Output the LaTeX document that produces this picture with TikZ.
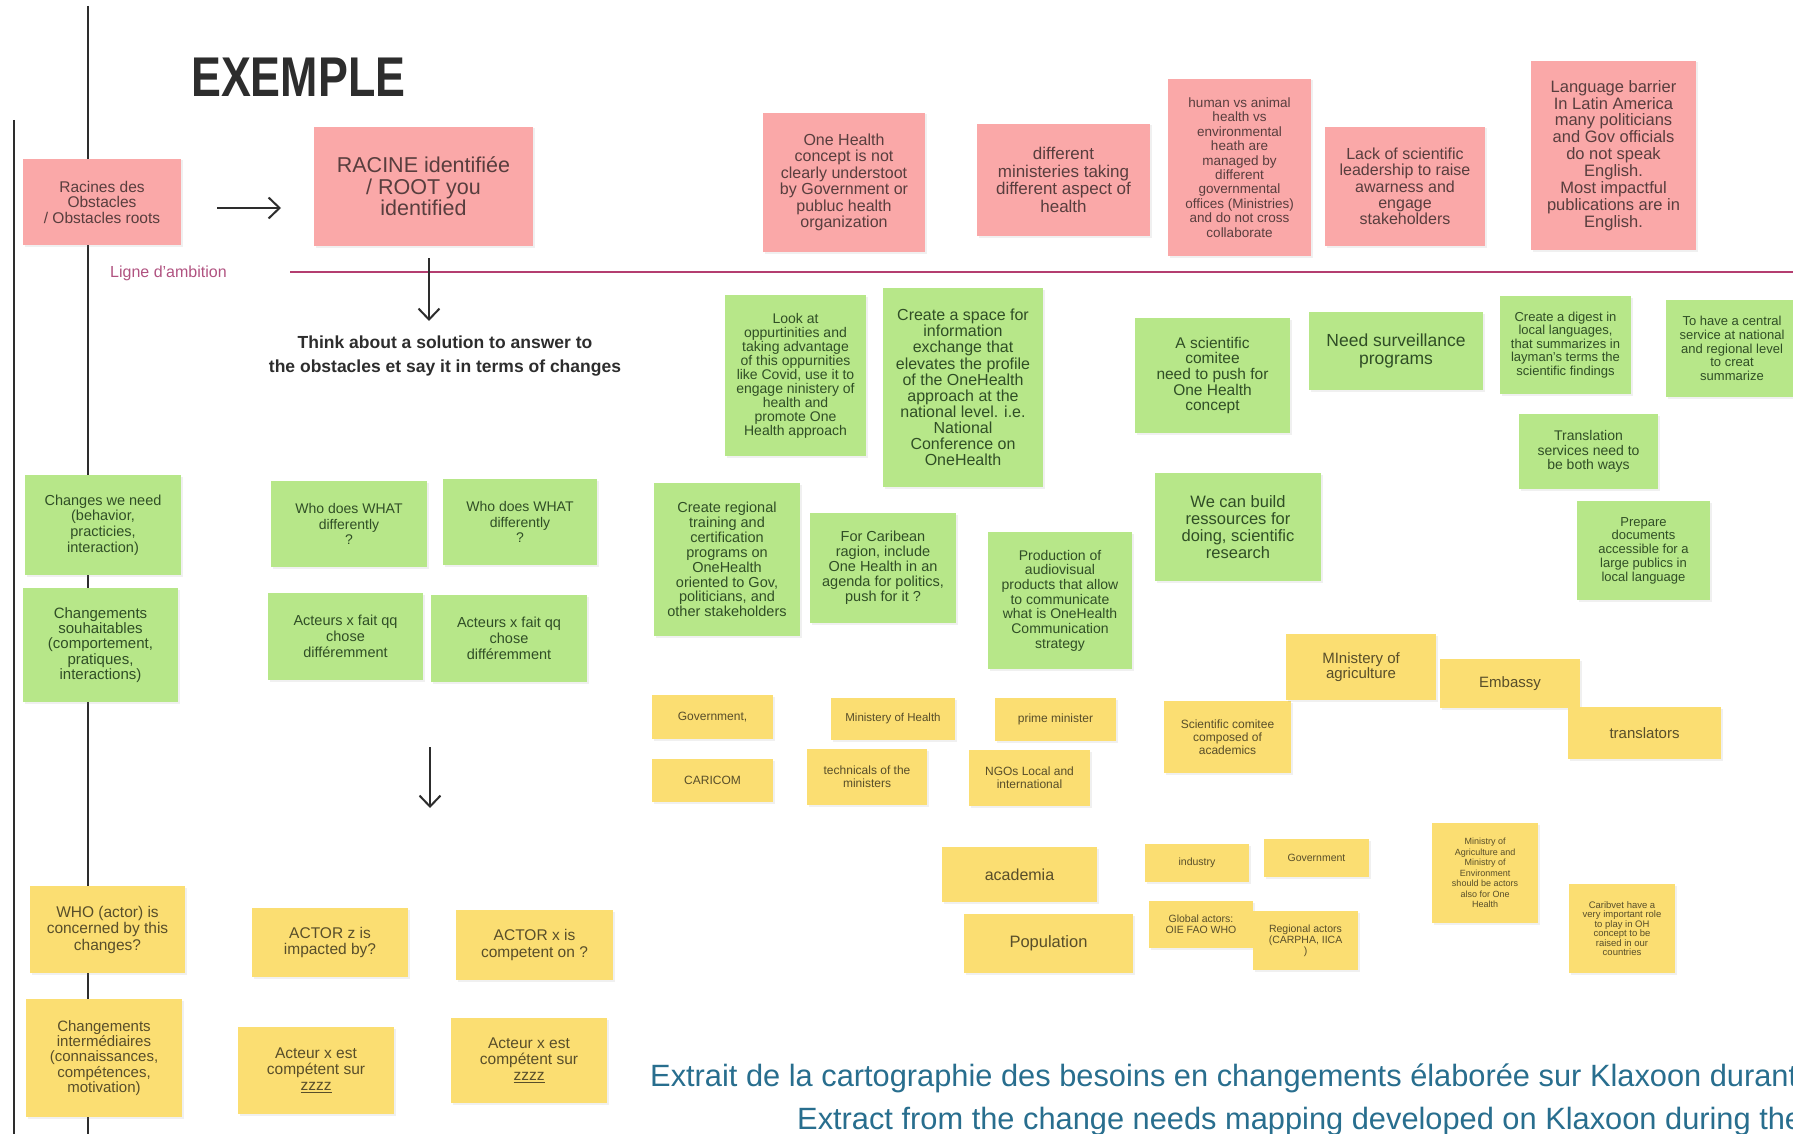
\documentclass[tikz,border=0pt]{standalone}
\usepackage{fontspec}
\setmainfont{Liberation Sans}
\usepackage{graphicx}
\usepackage{tikz}
\usetikzlibrary{positioning,arrows.meta,shadows}
\definecolor{notepink}{RGB}{250,168,168}
\definecolor{notegreen}{RGB}{183,231,137}
\definecolor{noteyellow}{RGB}{251,222,114}
\definecolor{inkpink}{RGB}{88,62,62}
\definecolor{inkgreen}{RGB}{48,78,38}
\definecolor{inkyellow}{RGB}{88,78,42}
\definecolor{ambition}{RGB}{180,62,112}
\definecolor{ambitiontext}{RGB}{176,82,128}
\definecolor{captionblue}{RGB}{40,110,142}
\definecolor{linegray}{RGB}{45,45,45}
\newcommand{\notesize}[2]{\fontsize{#1}{#2}\selectfont}

\begin{document}
\begin{tikzpicture}[x=1pt,y=-1pt,
                note/.style={rectangle,inner sep=0pt,align=center,
                  drop shadow={shadow xshift=1.5pt,shadow yshift=-1.5pt,opacity=0.12}},
                pink note/.style={note,fill=notepink,text=inkpink},
                green note/.style={note,fill=notegreen,text=inkgreen},
                yellow note/.style={note,fill=noteyellow,text=inkyellow},
                guide line/.style={draw=linegray,line width=2pt},
                step arrow/.style={-{Straight Barb[length=11pt,width=21pt]},draw=linegray,line width=2pt}]
\useasboundingbox (0,0) rectangle (1793,1134);
%Lines
    \coordinate (outerTop) at (14,120);
    \coordinate (outerBot) at (14,1134);
    \coordinate (innerTop) at (88,6);
    \coordinate (innerBot) at (88,1134);
    \coordinate (ambL) at (290,272);
    \coordinate (ambR) at (1793,272);
    \draw[guide line] (outerTop) -- (outerBot);
    \draw[guide line] (innerTop) -- (innerBot);
    \draw[draw=ambition,line width=2.5pt] (ambL) -- (ambR);

%Titles
    \node[anchor=base west,font=\notesize{56}{56}\bfseries,text=linegray,inner sep=0pt] (title) at (191,97) {\scalebox{0.8}[1]{EXEMPLE}};
    \node[anchor=base west,font=\notesize{16}{16},text=ambitiontext,inner sep=0pt] (ligne) at (110,277) {Ligne d'ambition};
    \node[align=center,font=\notesize{17.5}{24}\bfseries,text=linegray,inner sep=0pt] (think) at (445,356) {Think about a solution to answer to\\the obstacles et say it in terms of changes};

%Obstacles (pink)
    \node[pink note,minimum width=158,minimum height=86,font=\notesize{15.5}{15.5}] (racines) at (102,202) {Racines des\\Obstacles\\/ Obstacles roots};
    \node[pink note,minimum width=219,minimum height=119,font=\notesize{21.5}{21.5}] (root) at (423.5,186.5) {RACINE identifiée\\/ ROOT you\\identified};
    \node[pink note,minimum width=162,minimum height=139,font=\notesize{16}{16.5}] (concept) at (844,182.5) {One Health\\concept is not\\clearly understoot\\by Government or\\publuc health\\organization};
    \node[pink note,minimum width=173,minimum height=112,font=\notesize{17}{17.7}] (ministeries) at (1063.5,180) {different\\ministeries taking\\different aspect of\\health};
    \node[pink note,minimum width=143,minimum height=177,font=\notesize{13.5}{14.4}] (humanAnimal) at (1239.5,167.5) {human vs animal\\health vs\\environmental\\heath are\\managed by\\different\\governmental\\offices (Ministries)\\and do not cross\\collaborate};
    \node[pink note,minimum width=160,minimum height=119,font=\notesize{16}{16.3}] (leadership) at (1405,186.5) {Lack of scientific\\leadership to raise\\awarness and\\engage\\stakeholders};
    \node[pink note,minimum width=165,minimum height=189,font=\notesize{16.5}{16.9}] (language) at (1613.5,155.5) {Language barrier\\In Latin America\\many politicians\\and Gov officials\\do not speak\\English.\\Most impactful\\publications are in\\English.};

%Changes (green)
    \node[green note,minimum width=156,minimum height=100,font=\notesize{14.5}{15.6}] (changesNeed) at (103,525) {Changes we need\\(behavior,\\practicies,\\interaction)};
    \node[green note,minimum width=155,minimum height=114,font=\notesize{15}{15.4}] (changesFr) at (100.5,645) {Changements\\souhaitables\\(comportement,\\pratiques,\\interactions)};
    \node[green note,minimum width=156,minimum height=86,font=\notesize{14}{15.4}] (whoWhatA) at (349,524) {Who does WHAT\\differently\\?};
    \node[green note,minimum width=154,minimum height=86,font=\notesize{14}{15.4}] (whoWhatB) at (520,522) {Who does WHAT\\differently\\?};
    \node[green note,minimum width=155,minimum height=87,font=\notesize{14.5}{16}] (acteursA) at (345.5,636.5) {Acteurs x fait qq\\chose\\différemment};
    \node[green note,minimum width=156,minimum height=87,font=\notesize{14.5}{16}] (acteursB) at (509,638.5) {Acteurs x fait qq\\chose\\différemment};
    \node[green note,minimum width=141,minimum height=161,font=\notesize{14}{14}] (lookAt) at (795.5,375.5) {Look at\\oppurtinities and\\taking advantage\\of this oppurnities\\like Covid, use it to\\engage ninistery of\\health and\\promote One\\Health approach};
    \node[green note,minimum width=160,minimum height=199,font=\notesize{16}{16.1}] (space) at (963,387.5) {Create a space for\\information\\exchange that\\elevates the profile\\of the OneHealth\\approach at the\\national level. i.e.\\National\\Conference on\\OneHealth};
    \node[green note,minimum width=155,minimum height=115,font=\notesize{15.5}{15.7}] (sciComitee) at (1212.5,375.5) {A scientific\\comitee\\need to push for\\One Health\\concept};
    \node[green note,minimum width=174,minimum height=78,font=\notesize{17.5}{18.3}] (surveillance) at (1396,351) {Need surveillance\\programs};
    \node[green note,minimum width=131,minimum height=98,font=\notesize{13}{13.4}] (digest) at (1565.5,345) {Create a digest in\\local languages,\\that summarizes in\\layman's terms the\\scientific findings};
    \node[green note,minimum width=132,minimum height=97,font=\notesize{13}{13.7}] (central) at (1732,348.5) {To have a central\\service at national\\and regional level\\to creat\\summarize};
    \node[green note,minimum width=139,minimum height=75,font=\notesize{14}{14.3}] (translation) at (1588.5,451.5) {Translation\\services need to\\be both ways};
    \node[green note,minimum width=166,minimum height=108,font=\notesize{16.5}{16.8}] (ressources) at (1238,527) {We can build\\ressources for\\doing, scientific\\research};
    \node[green note,minimum width=133,minimum height=99,font=\notesize{13}{13.7}] (prepare) at (1643.5,550.5) {Prepare\\documents\\accessible for a\\large publics in\\local language};
    \node[green note,minimum width=146,minimum height=153,font=\notesize{14.5}{14.9}] (training) at (727,559.5) {Create regional\\training and\\certification\\programs on\\OneHealth\\oriented to Gov,\\politicians, and\\other stakeholders};
    \node[green note,minimum width=146,minimum height=110,font=\notesize{14.5}{14.9}] (caribean) at (883,568) {For Caribean\\ragion, include\\One Health in an\\agenda for politics,\\push for it ?};
    \node[green note,minimum width=144,minimum height=137,font=\notesize{14}{14.7}] (audiovisual) at (1060,600.5) {Production of\\audiovisual\\products that allow\\to communicate\\what is OneHealth\\Communication\\strategy};

%Actors (yellow)
    \node[yellow note,minimum width=121,minimum height=44,font=\notesize{12}{13}] (government) at (712.5,717) {Government,};
    \node[yellow note,minimum width=121,minimum height=43,font=\notesize{12}{13}] (caricom) at (712.5,780.5) {CARICOM};
    \node[yellow note,minimum width=124,minimum height=42,font=\notesize{11.5}{13}] (health) at (893,719) {Ministery of Health};
    \node[yellow note,minimum width=120,minimum height=56,font=\notesize{12}{13}] (technicals) at (867,777) {technicals of the\\ministers};
    \node[yellow note,minimum width=121,minimum height=43,font=\notesize{12}{13}] (prime) at (1055.5,719.5) {prime minister};
    \node[yellow note,minimum width=121,minimum height=56,font=\notesize{12}{13}] (ngos) at (1029.5,778) {NGOs Local and\\international};
    \node[yellow note,minimum width=127,minimum height=72,font=\notesize{12}{13}] (sciAcademics) at (1227.5,737) {Scientific comitee\\composed of\\academics};
    \node[yellow note,minimum width=150,minimum height=66,font=\notesize{15}{15}] (agriculture) at (1361,667) {MInistery of\\agriculture};
    \node[yellow note,minimum width=140,minimum height=49,font=\notesize{15}{15}] (embassy) at (1510,683.5) {Embassy};
    \node[yellow note,minimum width=153,minimum height=52,font=\notesize{15}{15}] (translators) at (1644.5,733) {translators};
    \node[yellow note,minimum width=155,minimum height=55,font=\notesize{16}{16}] (academia) at (1019.5,874.5) {academia};
    \node[yellow note,minimum width=169,minimum height=59,font=\notesize{16.5}{16.5}] (population) at (1048.5,943.5) {Population};
    \node[yellow note,minimum width=104,minimum height=38,font=\notesize{10.5}{11}] (industry) at (1197,863) {industry};
    \node[yellow note,minimum width=105,minimum height=38,font=\notesize{10.5}{11}] (governmentB) at (1316.5,858) {Government};
    \node[yellow note,minimum width=104,minimum height=47,font=\notesize{10.5}{11}] (globalActors) at (1201,924.5) {Global actors:\\OIE FAO WHO};
    \node[yellow note,minimum width=105,minimum height=59,font=\notesize{10.5}{11}] (regionalActors) at (1305.5,940.5) {Regional actors\\(CARPHA, IICA\\)};
    \node[yellow note,minimum width=106,minimum height=100,font=\notesize{9}{10.5}] (agriEnv) at (1485,873) {Ministry of\\Agriculture and\\Ministry of\\Environment\\should be actors\\also for One\\Health};
    \node[yellow note,minimum width=106,minimum height=89,font=\notesize{9.5}{9.5}] (caribvet) at (1622,928.5) {Caribvet have a\\very important role\\to play in OH\\concept to be\\raised in our\\countries};
    \node[yellow note,minimum width=155,minimum height=87,font=\notesize{15.5}{16.5}] (whoActor) at (107.5,929.5) {WHO (actor) is\\concerned by this\\changes?};
    \node[yellow note,minimum width=156,minimum height=69,font=\notesize{15.5}{16}] (actorZ) at (330,942.5) {ACTOR z is\\impacted by?};
    \node[yellow note,minimum width=157,minimum height=70,font=\notesize{15.5}{17}] (actorX) at (534.5,945) {ACTOR x is\\competent on ?};
    \node[yellow note,minimum width=156,minimum height=118,font=\notesize{15}{15.2}] (intermediaires) at (104,1058) {Changements\\intermédiaires\\(connaissances,\\compétences,\\motivation)};
    \node[yellow note,minimum width=156,minimum height=87,font=\notesize{15.5}{16}] (competentA) at (316,1070.5) {Acteur x est\\compétent sur\\\underline{zzzz}};
    \node[yellow note,minimum width=156,minimum height=85,font=\notesize{15.5}{16}] (competentB) at (529,1060.5) {Acteur x est\\compétent sur\\\underline{zzzz}};

%Caption
    \node[anchor=base west,font=\notesize{30.8}{30.8},text=captionblue,inner sep=0pt] (captionFr) at (650,1086) {Extrait de la cartographie des besoins en changements élaborée sur Klaxoon durant};
    \node[anchor=base west,font=\notesize{30.8}{30.8},text=captionblue,inner sep=0pt] (captionEn) at (797,1129) {Extract from the change needs mapping developed on Klaxoon during the};

%Arrows
    \coordinate (rootArrS) at (217,208);
    \coordinate (rootArrE) at (281,208);
    \coordinate (thinkArrS) at (429,258);
    \coordinate (thinkArrE) at (429,321);
    \coordinate (actorArrS) at (430,747);
    \coordinate (actorArrE) at (430,808);
    \draw[step arrow] (rootArrS) -- (rootArrE);
    \draw[step arrow] (thinkArrS) -- (thinkArrE);
    \draw[step arrow] (actorArrS) -- (actorArrE);
\end{tikzpicture}
\end{document}
